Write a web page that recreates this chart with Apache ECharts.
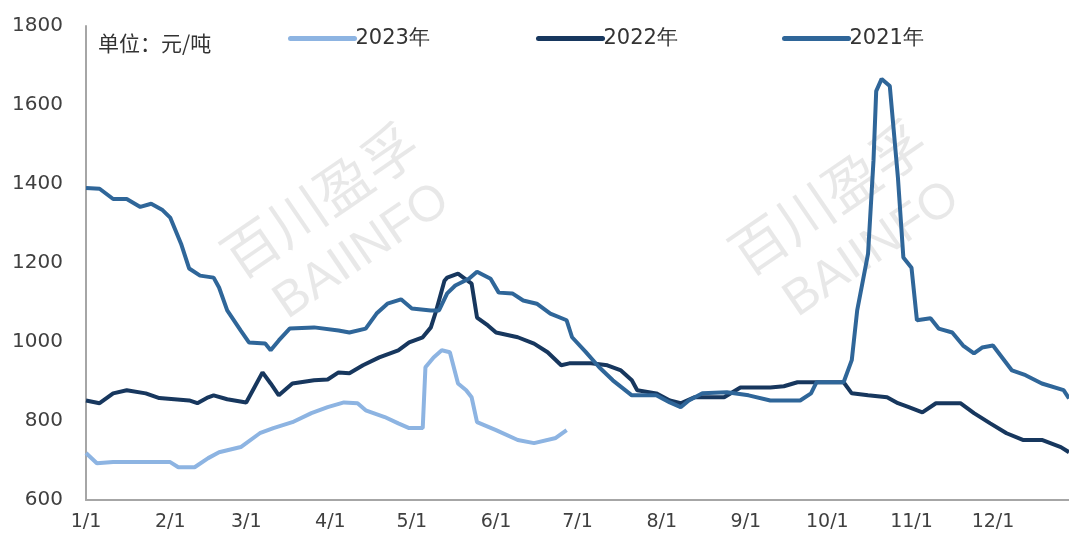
<!DOCTYPE html>
<html>
<head>
<meta charset="utf-8">
<script src="https://cdn.jsdelivr.net/npm/echarts@6/dist/echarts.min.js"></script>
<style>html,body{margin:0;padding:0;background:#fff}#c{width:1069px;height:534px}</style>
</head>
<body>
<div id="c"></div>
<script>
// Month start positions (day of year, 0 = 1/1) and their tick labels
const monthStarts = [0,31,59,90,120,151,181,212,243,273,304,334];
const monthLabels = ['1/1','2/1','3/1','4/1','5/1','6/1','7/1','8/1','9/1','10/1','11/1','12/1'];
const yTicks = [600,800,1000,1200,1400,1600,1800];

// 2023
const days2023 = [0,4,10,31,34,40,45,49,57,64,69,76,83,89,95,100,103,110,115,119,124,125,128,131,134,137,140,142,144,151,159,165,173,177];
const vals2023 = [719,693,696,696,683,683,706,721,734,769,782,797,820,835,847,845,827,810,794,782,782,936,961,979,974,895,878,860,797,777,752,744,757,777];

// 2022
const days2022 = [0,5,10,15,22,27,38,41,45,47,52,59,62,65,68,71,76,84,89,93,97,102,108,115,119,124,127,129,132,133,137,139,142,144,148,151,159,165,170,175,178,186,192,197,201,203,210,215,219,224,230,235,241,247,252,257,262,279,282,288,295,299,303,308,313,322,327,333,339,345,352,359,362];
const vals2022 = [852,845,870,878,870,858,852,845,860,865,855,847,885,923,895,865,895,903,905,923,921,941,961,979,999,1012,1037,1080,1155,1163,1173,1163,1148,1062,1042,1024,1012,996,974,941,946,946,941,928,903,878,870,852,845,860,860,860,885,885,885,888,898,898,870,865,860,845,835,822,845,845,820,794,769,752,752,734,721];

// 2021
const days2021 = [0,5,10,15,20,24,28,31,35,38,42,47,49,52,57,60,66,68,71,75,84,93,97,103,107,111,116,120,127,130,133,136,141,144,149,152,157,161,166,171,177,179,184,189,194,201,210,215,219,222,227,236,244,252,263,267,269,279,282,284,288,290,291,293,296,299,301,304,306,311,314,319,323,327,330,334,341,346,352,360,362];
const vals2021 = [1390,1388,1362,1362,1342,1350,1335,1315,1249,1186,1168,1163,1138,1080,1029,999,996,979,1004,1034,1037,1029,1024,1034,1072,1097,1108,1085,1080,1080,1123,1143,1160,1178,1160,1125,1123,1105,1097,1072,1055,1012,975,936,903,865,865,847,835,852,870,873,865,852,852,870,898,898,954,1080,1224,1459,1635,1666,1648,1416,1214,1188,1055,1060,1034,1024,991,971,986,991,928,916,895,878,857];

const zip = (d, v) => d.map((x, i) => [x, v[i]]);
const FONT = '"DejaVu Sans", "Liberation Sans", sans-serif';
const colors = {y2023: '#8DB4E2', y2022: '#17375E', y2021: '#2F6699'};

function legendAt(left, name) {
  return {
    data: [name], left: left, top: 23,
    itemWidth: 64, itemHeight: 14, itemGap: 0,
    lineStyle: {width: 5, cap: 'round'},
    itemStyle: {opacity: 0},
    textStyle: {fontSize: 21, fontFamily: FONT, color: '#333', padding: [0,0,0,-4]}
  };
}

const chart = echarts.init(document.getElementById('c'), null, {renderer: 'canvas'});
chart.setOption({
  animation: false,
  backgroundColor: '#fff',
  grid: {left: 86, right: 0, top: 26, bottom: 34, containLabel: false},
  legend: [legendAt(283, '2023年'), legendAt(531, '2022年'), legendAt(777, '2021年')],
  xAxis: {
    type: 'value', min: 0, max: 362,
    splitLine: {show: false},
    axisLine: {show: true, onZero: false, lineStyle: {color: '#a6a6a6', width: 2}},
    axisTick: {show: false},
    axisLabel: {
      customValues: monthStarts,
      formatter: v => monthLabels[monthStarts.indexOf(v)],
      fontSize: 19, fontFamily: FONT, color: '#404040', margin: 13
    }
  },
  yAxis: {
    type: 'value', min: yTicks[0], max: yTicks[yTicks.length - 1], interval: 200,
    splitLine: {show: false},
    axisLine: {show: true, lineStyle: {color: '#a6a6a6', width: 2}},
    axisTick: {show: false},
    axisLabel: {fontSize: 20, fontFamily: FONT, color: '#404040', margin: 23, formatter: v => String(v)}
  },
  graphic: [
    {type: 'text', left: 98, top: 33, z: 10, style: {text: '单位：元/吨', font: '21px "Noto Sans CJK SC"', fill: '#333'}},
    {type: 'text', x: 320, y: 200, rotation: 0.6, z: 0, style: {text: '百川盈孚', font: '56px "Noto Sans CJK SC"', fill: 'rgba(0,0,0,0.09)', align: 'center', verticalAlign: 'middle'}},
    {type: 'text', x: 362, y: 252, rotation: 0.6, z: 0, style: {text: 'BAIINFO', font: '50px "Liberation Sans"', fill: 'rgba(0,0,0,0.09)', align: 'center', verticalAlign: 'middle'}},
    {type: 'text', x: 828, y: 197, rotation: 0.6, z: 0, style: {text: '百川盈孚', font: '56px "Noto Sans CJK SC"', fill: 'rgba(0,0,0,0.09)', align: 'center', verticalAlign: 'middle'}},
    {type: 'text', x: 872, y: 250, rotation: 0.6, z: 0, style: {text: 'BAIINFO', font: '50px "Liberation Sans"', fill: 'rgba(0,0,0,0.09)', align: 'center', verticalAlign: 'middle'}}
  ],
  series: [
    {name: '2023年', type: 'line', data: zip(days2023, vals2023), showSymbol: false, symbol: 'none',
     lineStyle: {width: 4, color: colors.y2023}, itemStyle: {color: colors.y2023}, z: 3},
    {name: '2022年', type: 'line', data: zip(days2022, vals2022), showSymbol: false, symbol: 'none',
     lineStyle: {width: 4, color: colors.y2022}, itemStyle: {color: colors.y2022}, z: 3},
    {name: '2021年', type: 'line', data: zip(days2021, vals2021), showSymbol: false, symbol: 'none',
     lineStyle: {width: 4, color: colors.y2021}, itemStyle: {color: colors.y2021}, z: 3}
  ]
});
</script>
</body>
</html>
